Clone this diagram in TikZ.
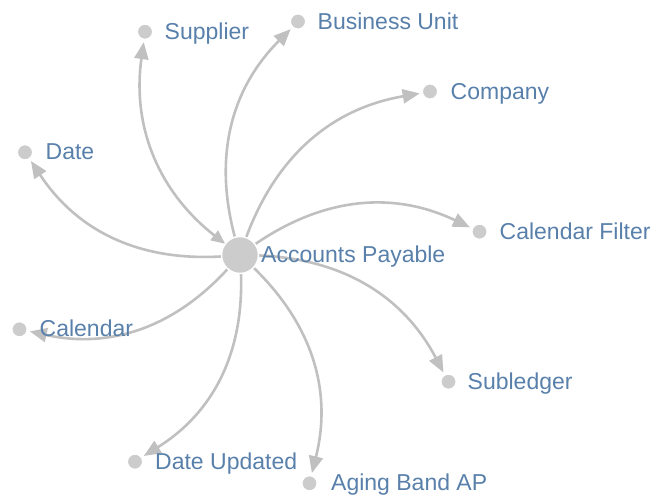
\documentclass[tikz,border=0pt]{standalone}
\usepackage{fontspec}
\setmainfont{Liberation Sans}
\usetikzlibrary{arrows.meta}
\pgfdeclarelayer{bg}
\pgfsetlayers{bg,main}
\definecolor{lbl}{RGB}{88,128,170}
\definecolor{dotc}{RGB}{204,204,204}
\definecolor{edgec}{RGB}{192,192,192}
\begin{document}
\begin{tikzpicture}[x=1pt,y=1pt,
  dot/.style={circle,fill=dotc,draw=white,line width=1pt,minimum size=15pt,inner sep=0pt,outer sep=3pt},
  hub/.style={circle,fill=dotc,draw=white,line width=1.5pt,minimum size=37pt,inner sep=0pt,outer sep=0pt},
  lab/.style={anchor=base west,inner sep=0pt,text=lbl,font=\fontsize{23}{27}\selectfont},
  link/.style={draw=edgec,line width=2.6pt,-{Triangle[length=17pt,width=14pt]},bend left=30},
  twoway/.style={link,{Triangle[length=14pt,width=12pt]}-{Triangle[length=17pt,width=14pt]}}]
\useasboundingbox (0,0) rectangle (654,498);

% nodes
\node[hub] (ap) at (240,243) {};
\node[dot] (sup) at (145,466.3) {};
\node[dot] (bu) at (298,476.5) {};
\node[dot] (comp) at (430,406.5) {};
\node[dot] (date) at (25,345.7) {};
\node[dot] (cf) at (479.5,266.3) {};
\node[dot] (cal) at (19.5,168.7) {};
\node[dot] (sub) at (448.5,116.3) {};
\node[dot] (du) at (135,36.3) {};
\node[dot] (ab) at (309.5,14.7) {};

% connectors
\begin{pgfonlayer}{bg}
\draw[twoway] (ap) to (sup);
\draw[link] (ap) to (bu);
\draw[link] (ap) to (comp);
\draw[link] (ap) to (date);
\draw[link] (ap) to (cf);
\draw[link] (ap) to (cal);
\draw[link] (ap) to (sub);
\draw[link] (ap) to (du);
\draw[link] (ap) to (ab);
\end{pgfonlayer}

% labels
\node[lab] (apL) at (261,235.5) {Accounts Payable};
\node[lab] (supL) at (164.5,458.7) {Supplier};
\node[lab] (buL) at (317.5,468.9) {Business Unit};
\node[lab] (compL) at (450.5,398.9) {Company};
\node[lab] (dateL) at (45.5,338.1) {Date};
\node[lab] (cfL) at (499.5,258.7) {Calendar Filter};
\node[lab] (calL) at (39.5,161.1) {Calendar};
\node[lab] (subL) at (467.5,108.7) {Subledger};
\node[lab] (duL) at (155,28.7) {Date Updated};
\node[lab] (abL) at (331,7.1) {Aging Band AP};
\end{tikzpicture}
\end{document}
